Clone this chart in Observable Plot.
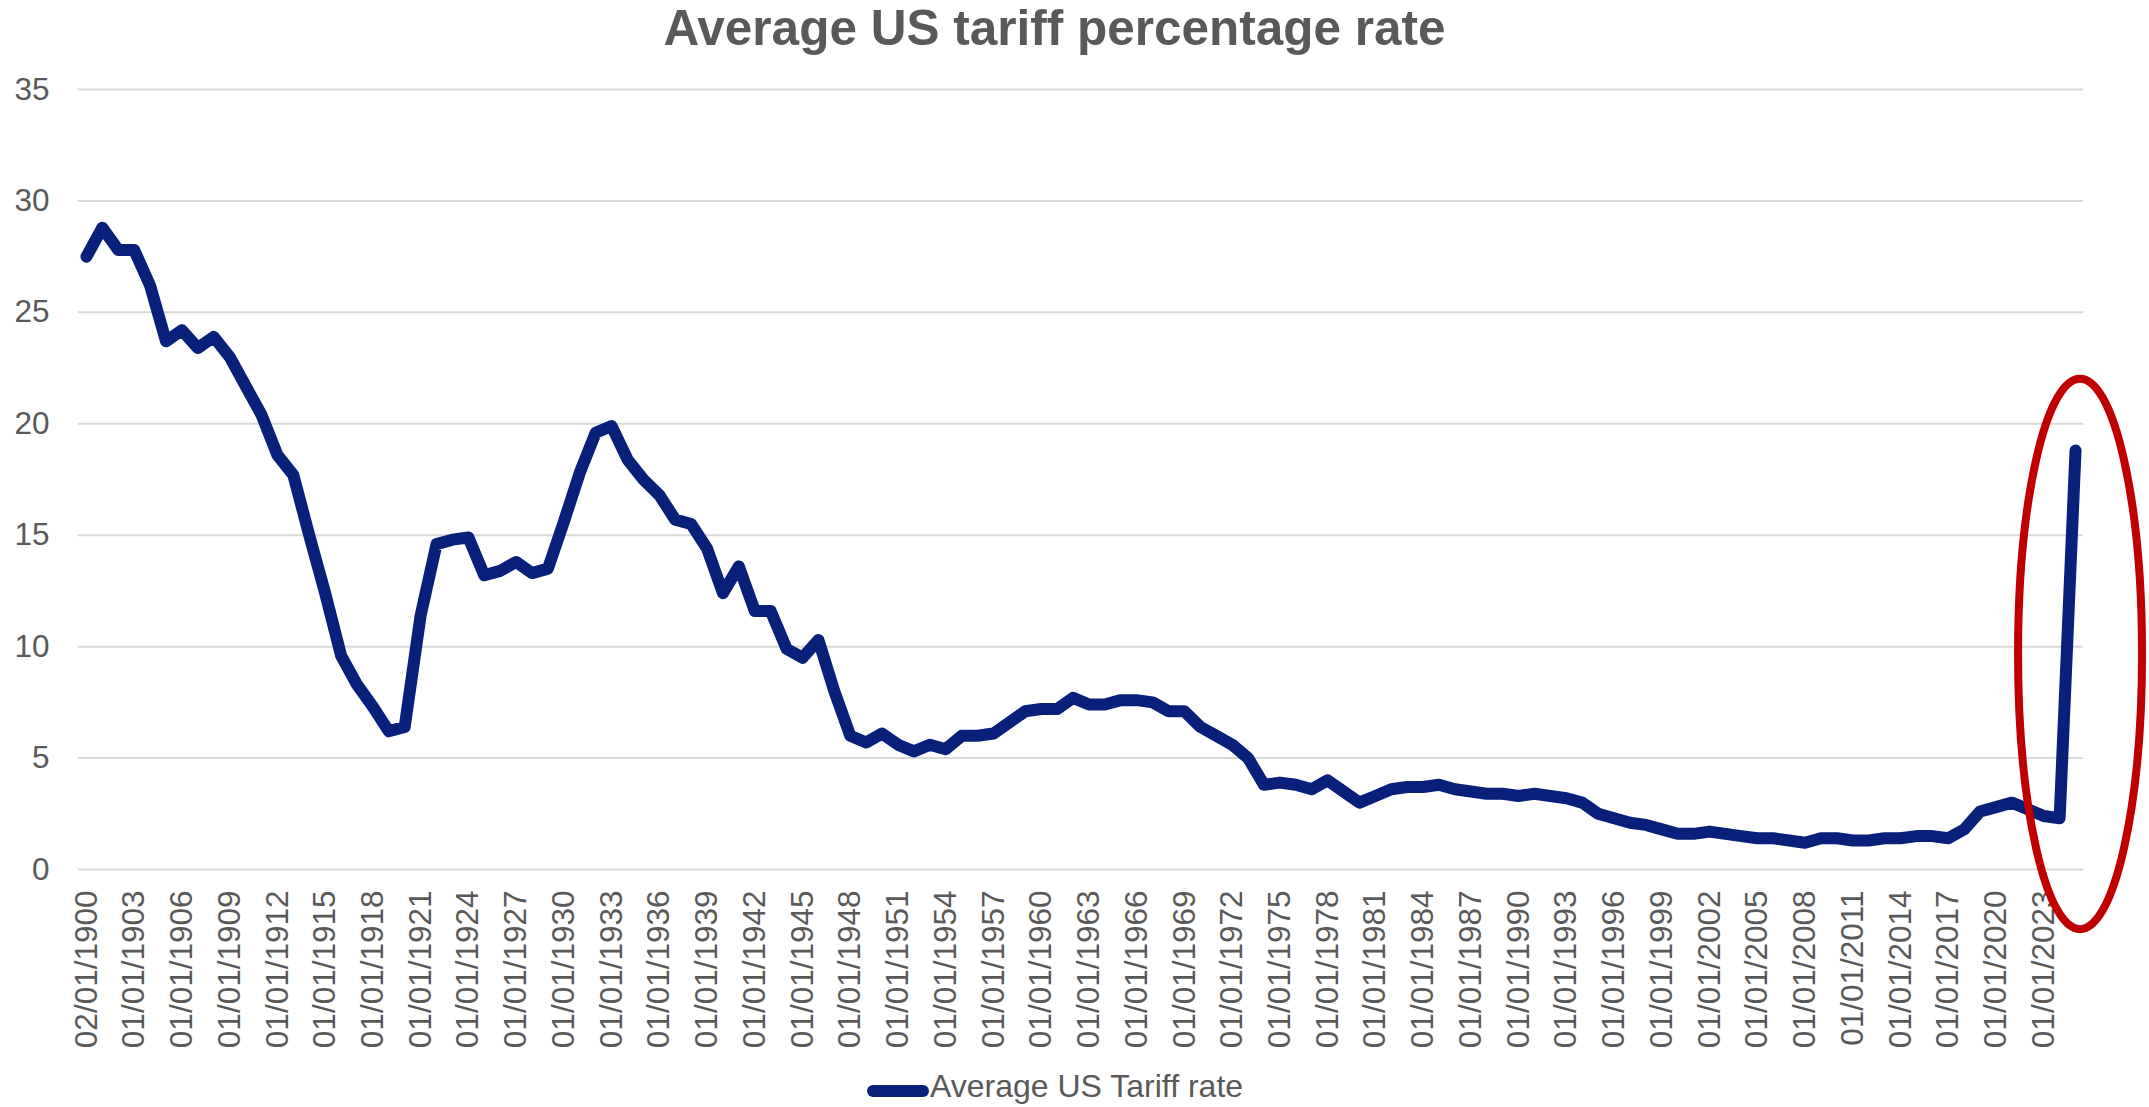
<!DOCTYPE html>
<html>
<head>
<meta charset="utf-8">
<script src="https://cdn.jsdelivr.net/npm/d3@7"></script>
<script src="https://cdn.jsdelivr.net/npm/@observablehq/plot@0.6"></script>
<style>
  html, body { margin: 0; padding: 0; background: #ffffff; }
  body { width: 2149px; height: 1107px; overflow: hidden; font-family: "Liberation Sans", Arial, sans-serif; color: #595959; }
  #title {
    box-sizing: border-box; height: 62px; width: 2109px; padding-top: 3px;
    text-align: center; font-size: 49.5px; font-weight: bold; line-height: 1; color: #595959;
  }
  #chart svg { display: block; }
  #legend { position: relative; height: 45px; width: 2149px; }
  #legend svg { position: absolute; left: 861px; top: 22px; }
  #legend span { position: absolute; left: 930px; top: 8px; font-size: 32px; line-height: 1; color: #595959; white-space: nowrap; }
</style>
</head>
<body>
<div id="title">Average US tariff percentage rate</div>
<div id="chart"></div>
<div id="legend">
  <svg width="74" height="14"><line x1="12" y1="7" x2="62" y2="7" stroke="#08207A" stroke-width="12" stroke-linecap="round"/></svg>
  <span>Average US Tariff rate</span>
</div>
<script>
// Calendar years of the series (one category per year)
const years = [
  1900, 1901, 1902, 1903, 1904, 1905, 1906, 1907, 1908, 1909,
  1910, 1911, 1912, 1913, 1914, 1915, 1916, 1917, 1918, 1919,
  1920, 1921, 1922, 1923, 1924, 1925, 1926, 1927, 1928, 1929,
  1930, 1931, 1932, 1933, 1934, 1935, 1936, 1937, 1938, 1939,
  1940, 1941, 1942, 1943, 1944, 1945, 1946, 1947, 1948, 1949,
  1950, 1951, 1952, 1953, 1954, 1955, 1956, 1957, 1958, 1959,
  1960, 1961, 1962, 1963, 1964, 1965, 1966, 1967, 1968, 1969,
  1970, 1971, 1972, 1973, 1974, 1975, 1976, 1977, 1978, 1979,
  1980, 1981, 1982, 1983, 1984, 1985, 1986, 1987, 1988, 1989,
  1990, 1991, 1992, 1993, 1994, 1995, 1996, 1997, 1998, 1999,
  2000, 2001, 2002, 2003, 2004, 2005, 2006, 2007, 2008, 2009,
  2010, 2011, 2012, 2013, 2014, 2015, 2016, 2017, 2018, 2019,
  2020, 2021, 2022, 2023, 2024, 2025
];

// Average US tariff rate (%), one value per year
const tariffRates = [
  27.5, 28.8, 27.8, 27.8, 26.2, 23.7, 24.2, 23.4, 23.9, 23.0,
  21.7, 20.4, 18.6, 17.7, 15.0, 12.4, 9.6, 8.3, 7.3, 6.2,
  6.4, 11.4, 14.6, 14.8, 14.9, 13.2, 13.4, 13.8, 13.3, 13.5,
  15.6, 17.8, 19.6, 19.9, 18.4, 17.5, 16.8, 15.7, 15.5, 14.4,
  12.4, 13.6, 11.6, 11.6, 9.9, 9.5, 10.3, 8.0, 6.0, 5.7,
  6.1, 5.6, 5.3, 5.6, 5.4, 6.0, 6.0, 6.1, 6.6, 7.1,
  7.2, 7.2, 7.7, 7.4, 7.4, 7.6, 7.6, 7.5, 7.1, 7.1,
  6.4, 6.0, 5.6, 5.0, 3.8, 3.9, 3.8, 3.6, 4.0, 3.5,
  3.0, 3.3, 3.6, 3.7, 3.7, 3.8, 3.6, 3.5, 3.4, 3.4,
  3.3, 3.4, 3.3, 3.2, 3.0, 2.5, 2.3, 2.1, 2.0, 1.8,
  1.6, 1.6, 1.7, 1.6, 1.5, 1.4, 1.4, 1.3, 1.2, 1.4,
  1.4, 1.3, 1.3, 1.4, 1.4, 1.5, 1.5, 1.4, 1.8, 2.6,
  2.8, 3.0, 2.7, 2.4, 2.3, 18.8
];

// Category labels shown on the horizontal axis (every third year)
const xTickLabels = [
  "02/01/1900", "01/01/1903", "01/01/1906", "01/01/1909", "01/01/1912", "01/01/1915",
  "01/01/1918", "01/01/1921", "01/01/1924", "01/01/1927", "01/01/1930", "01/01/1933",
  "01/01/1936", "01/01/1939", "01/01/1942", "01/01/1945", "01/01/1948", "01/01/1951",
  "01/01/1954", "01/01/1957", "01/01/1960", "01/01/1963", "01/01/1966", "01/01/1969",
  "01/01/1972", "01/01/1975", "01/01/1978", "01/01/1981", "01/01/1984", "01/01/1987",
  "01/01/1990", "01/01/1993", "01/01/1996", "01/01/1999", "01/01/2002", "01/01/2005",
  "01/01/2008", "01/01/2011", "01/01/2014", "01/01/2017", "01/01/2020", "01/01/2023"
];

// Value-axis ticks
const yTicks = [0, 5, 10, 15, 20, 25, 30, 35];

// Highlighted stretch at the end of the series (year, value range it encloses)
const highlightYear = [2025];
const highlightRange = [-2.7, 22.0];

const series = years.map((year, i) => ({year, rate: tariffRates[i]}));
const tickYears = xTickLabels.map(s => +s.slice(-4));
const labelByYear = new Map(tickYears.map((y, i) => [y, xTickLabels[i]]));

const chart = Plot.plot({
  width: 2149,
  height: 1000,
  marginTop: 27,
  marginBottom: 193,
  marginLeft: 78,
  marginRight: 66,
  style: {fontFamily: "'Liberation Sans', Arial, sans-serif", fontSize: "31.5px", color: "#595959", background: "transparent", overflow: "visible"},
  x: {type: "point", domain: years, padding: 0.5},
  y: {domain: [0, 35]},
  marks: [
    Plot.gridY(yTicks, {stroke: "#d9d9d9", strokeOpacity: 1, strokeWidth: 2}),
    Plot.axisY(yTicks, {tickSize: 0, tickPadding: 29, tickFormat: d => String(d), fill: "#595959", label: null}),
    Plot.axisX(tickYears, {tickSize: 0, tickPadding: 21, tickRotate: -90, tickFormat: y => labelByYear.get(y), fill: "#595959", label: null}),
    Plot.line(series, {x: "year", y: "rate", stroke: "#08207A", strokeWidth: 12, strokeLinecap: "round", strokeLinejoin: "round"})
  ]
});

document.getElementById("chart").append(chart);

// Red ellipse around the final jump, positioned with the plot's own scales
const xs = chart.scale("x"), ys = chart.scale("y");
const cx = xs.apply(highlightYear[0]) + 5;
const yTop = ys.apply(highlightRange[1]);
const yBottom = ys.apply(highlightRange[0]);
d3.select(chart)
  .append("ellipse")
  .attr("cx", cx)
  .attr("cy", (yTop + yBottom) / 2)
  .attr("rx", 62)
  .attr("ry", (yBottom - yTop) / 2)
  .attr("fill", "none")
  .attr("stroke", "#C00000")
  .attr("stroke-width", 8);
</script>
</body>
</html>
